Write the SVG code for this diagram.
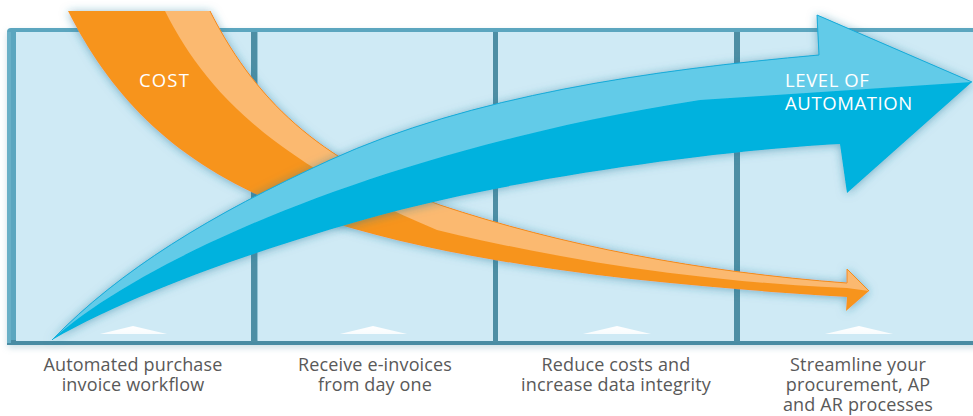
<svg xmlns="http://www.w3.org/2000/svg" width="973" height="416" viewBox="0 0 973 416">
  <defs>
    <filter id="glow" x="-10%" y="-10%" width="120%" height="120%">
      <feDropShadow dx="0" dy="1" stdDeviation="5" flood-color="#2a7d9c" flood-opacity="0.55"/>
    </filter>
    <filter id="frameShadow" x="-5%" y="-5%" width="110%" height="115%">
      <feDropShadow dx="0" dy="3" stdDeviation="3" flood-color="#7aa8b8" flood-opacity="0.35"/>
    </filter>
    <linearGradient id="mound" x1="0" y1="0" x2="0" y2="1">
      <stop offset="0" stop-color="#ffffff"/>
      <stop offset="1" stop-color="#ffffff" stop-opacity="0.85"/>
    </linearGradient>
    <style>
      .panel { fill: #cfeaf5; }
      .divider { fill: #4d8ea4; }
      .mound { fill: url(#mound); }
      .label { font-family: "Open Sans", "Liberation Sans", sans-serif; font-size: 18px; fill: #595959; text-anchor: middle; letter-spacing: 0.15px; }
      .arrowText { font-family: "Open Sans", "Liberation Sans", sans-serif; font-size: 18.5px; fill: #ffffff; }
    </style>
  </defs>

  <!-- frame -->
  <g id="frame">
    <rect x="7" y="28" width="980" height="317" rx="4" fill="#5ba6bf" filter="url(#frameShadow)"/>
    <rect x="7" y="340" width="980" height="5" fill="#4a8ca3"/>
    <rect x="7" y="32" width="4" height="311" fill="#6ab0c7"/>
    <rect class="divider" x="251" y="32" width="6.5" height="310"/>
    <rect class="divider" x="493" y="32" width="5" height="310"/>
    <rect class="divider" x="734" y="32" width="6" height="310"/>
  </g>

  <g id="panel1">
    <rect class="panel" x="16" y="32" width="235" height="309"/>
    <polygon class="mound" points="100,334 133,326 167,334"/>
    <text class="label" x="133" y="371">Automated purchase</text>
    <text class="label" x="133" y="391">invoice workflow</text>
  </g>
  <g id="panel2">
    <rect class="panel" x="257.5" y="32" width="235.5" height="309"/>
    <polygon class="mound" points="340,334 373,326 407,334"/>
    <text class="label" x="375" y="371">Receive e-invoices</text>
    <text class="label" x="375" y="391">from day one</text>
  </g>
  <g id="panel3">
    <rect class="panel" x="498" y="32" width="236" height="309"/>
    <polygon class="mound" points="583,334 617,326 651,334"/>
    <text class="label" x="616" y="371">Reduce costs and</text>
    <text class="label" x="616" y="391">increase data integrity</text>
  </g>
  <g id="panel4">
    <rect class="panel" x="740" y="32" width="240" height="309"/>
    <polygon class="mound" points="825,334 859,326 893,334"/>
    <text class="label" x="858" y="371">Streamline your</text>
    <text class="label" x="858" y="391">procurement, AP</text>
    <text class="label" x="858" y="411">and AR processes</text>
  </g>

  <g id="connectors">
    <!-- cost arrow -->
    <g id="cost-arrow" filter="url(#glow)">
      <path d="M68,11 L210,11 C260,110 330,165 440,205 C560,245 700,272 847,283 L847,269 L869,291 L846,311 L847,297 C650,285 470,265 330,222 C190,180 115,105 68,11 Z" fill="#f7941d"/>
      <path d="M165,11 L210,11 C260,110 330,165 440,205 C560,245 700,272 847,283 L847,269 L869,291 L847,288 C700,282 560,260 437,230 C270,160 205,90 165,11 Z" fill="#fbb970"/>
      <path d="M210,11 C260,110 330,165 440,205 C560,245 700,272 847,283 L847,269 L869,291" fill="none" stroke="#f28c1a" stroke-width="1"/>
    </g>
    <!-- automation arrow -->
    <g id="automation-arrow" filter="url(#glow)">
      <path d="M52,340 C120,270 210,215 330,160 C470,96 650,70 819,55 L817,15 L972,82 L847,193 L840,144 C720,150 500,180 363,220 C250,252 130,295 52,340 Z" fill="#00b2de"/>
      <path d="M52,340 C120,270 210,215 330,160 C470,96 650,70 819,55 L817,15 L972,82 L700,100 C380,150 140,260 52,340 Z" fill="#62cbe8"/>
      <path d="M52,340 C120,270 210,215 330,160 C470,96 650,70 819,55 L817,15 L972,82" fill="none" stroke="#19abd9" stroke-width="1"/>
    </g>
  </g>

  <g id="arrow-labels">
    <text class="arrowText" x="164.5" y="87" text-anchor="middle" letter-spacing="1.2">COST</text>
    <text class="arrowText" x="785" y="87" letter-spacing="0.6">LEVEL OF</text>
    <text class="arrowText" x="785" y="110" letter-spacing="0.6">AUTOMATION</text>
  </g>
</svg>
